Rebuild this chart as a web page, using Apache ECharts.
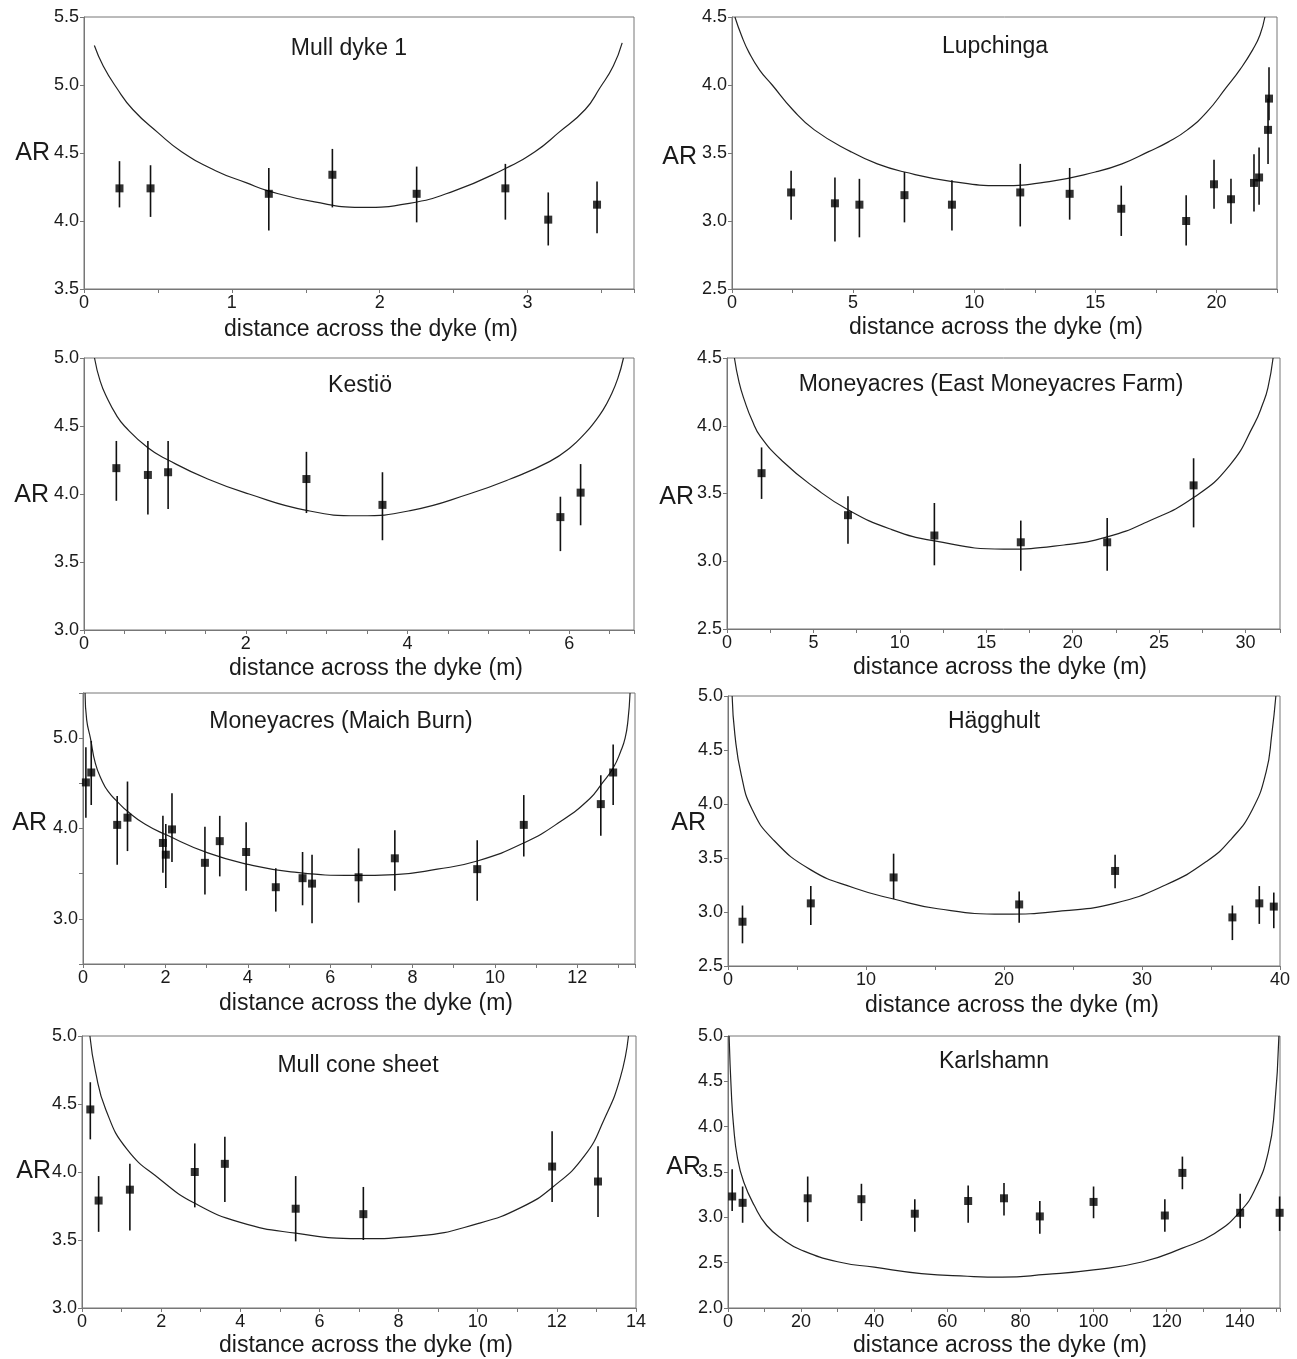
<!DOCTYPE html>
<html>
<head>
<meta charset="utf-8">
<script src="https://cdn.jsdelivr.net/npm/echarts@6/dist/echarts.min.js"></script>
<style>
html,body{margin:0;padding:0;background:#fff;}
#chart{width:1297px;height:1359px;}
</style>
</head>
<body>
<div id="chart"></div>
<script>
// ---------- DATA ----------
const titles = ["Mull dyke 1", "Lupchinga", "Kestiö", "Moneyacres (East Moneyacres Farm)",
                "Moneyacres (Maich Burn)", "Hägghult", "Mull cone sheet", "Karlshamn"];
const xAxisName = "distance across the dyke (m)";
const yAxisName = "AR";

// Panel 1: Mull dyke 1
const p1X  = [0.24, 0.45, 1.25, 1.68, 2.25, 2.85, 3.14, 3.47];
const p1AR = [4.24, 4.24, 4.20, 4.34, 4.20, 4.24, 4.01, 4.12];
const p1Lo = [4.10, 4.03, 3.93, 4.10, 3.99, 4.01, 3.82, 3.91];
const p1Hi = [4.44, 4.41, 4.39, 4.53, 4.40, 4.42, 4.21, 4.29];
const p1CurveX = [0.07, 0.13, 0.22, 0.33, 0.50, 0.66, 0.89, 1.10, 1.25, 1.56, 1.87, 2.20, 2.50, 2.82, 3.05, 3.21, 3.39, 3.49, 3.58, 3.64];
const p1CurveY = [5.29, 5.14, 4.98, 4.82, 4.65, 4.51, 4.37, 4.28, 4.22, 4.14, 4.10, 4.13, 4.22, 4.37, 4.51, 4.65, 4.82, 4.98, 5.14, 5.31];
const p1XTicks = [0, 1, 2, 3];
const p1YTicks = [3.5, 4.0, 4.5, 5.0, 5.5];

// Panel 2: Lupchinga
const p2X  = [2.44, 4.25, 5.26, 7.12, 9.08, 11.9, 13.94, 16.07, 18.75, 19.9, 20.6, 21.55, 21.76, 22.13, 22.17];
const p2AR = [3.21, 3.13, 3.12, 3.19, 3.12, 3.21, 3.20, 3.09, 3.00, 3.27, 3.16, 3.28, 3.32, 3.67, 3.90];
const p2Lo = [3.01, 2.85, 2.88, 2.99, 2.93, 2.96, 3.01, 2.89, 2.82, 3.09, 2.98, 3.07, 3.12, 3.42, 3.74];
const p2Hi = [3.37, 3.32, 3.31, 3.36, 3.30, 3.42, 3.39, 3.26, 3.19, 3.45, 3.31, 3.49, 3.54, 3.90, 4.13];
const p2CurveX = [0.12, 0.40, 0.70, 1.14, 1.66, 2.50, 3.40, 4.90, 6.00, 7.12, 9.10, 11.1, 13.1, 15.0, 16.1, 17.2, 18.0, 18.8, 19.6, 20.4, 21.0, 21.5, 21.8, 22.0];
const p2CurveY = [4.50, 4.36, 4.24, 4.11, 4.00, 3.82, 3.67, 3.51, 3.42, 3.36, 3.29, 3.26, 3.29, 3.36, 3.42, 3.51, 3.58, 3.67, 3.80, 3.98, 4.12, 4.26, 4.37, 4.50];
const p2XTicks = [0, 5, 10, 15, 20];
const p2YTicks = [2.5, 3.0, 3.5, 4.0, 4.5];

// Panel 3: Kestiö
const p3X  = [0.40, 0.79, 1.04, 2.75, 3.69, 5.89, 6.14];
const p3AR = [4.19, 4.14, 4.16, 4.11, 3.92, 3.83, 4.01];
const p3Lo = [3.95, 3.85, 3.89, 3.86, 3.66, 3.58, 3.77];
const p3Hi = [4.39, 4.39, 4.39, 4.31, 4.16, 3.98, 4.22];
const p3CurveX = [0.13, 0.20, 0.29, 0.40, 0.50, 0.79, 1.04, 1.53, 2.04, 2.75, 3.40, 4.05, 4.76, 5.27, 5.76, 6.01, 6.20, 6.30, 6.42, 6.51, 6.60, 6.67];
const p3CurveY = [5.00, 4.83, 4.70, 4.58, 4.50, 4.34, 4.25, 4.11, 4.00, 3.88, 3.84, 3.88, 4.00, 4.11, 4.24, 4.34, 4.45, 4.52, 4.62, 4.72, 4.85, 5.00];
const p3XTicks = [0, 2, 4, 6];
const p3YTicks = [3.0, 3.5, 4.0, 4.5, 5.0];

// Panel 4: Moneyacres (East Moneyacres Farm)
const p4X  = [2, 7, 12, 17, 22, 27];
const p4AR = [3.65, 3.34, 3.19, 3.14, 3.14, 3.56];
const p4Lo = [3.46, 3.13, 2.97, 2.93, 2.93, 3.25];
const p4Hi = [3.84, 3.48, 3.43, 3.30, 3.32, 3.76];
const p4CurveX = [0.43, 0.70, 1.03, 1.45, 1.94, 3.2, 5.1, 7.0, 9.4, 12.0, 16.0, 19.5, 22.0, 24.3, 27.0, 29.1, 30.5, 31.0, 31.3, 31.6];
const p4CurveY = [4.50, 4.32, 4.18, 4.04, 3.92, 3.74, 3.54, 3.38, 3.24, 3.15, 3.09, 3.12, 3.18, 3.29, 3.47, 3.71, 4.01, 4.16, 4.28, 4.50];
const p4XTicks = [0, 5, 10, 15, 20, 25, 30];
const p4YTicks = [2.5, 3.0, 3.5, 4.0, 4.5];

// Panel 5: Moneyacres (Maich Burn)
const p5X  = [0.07, 0.20, 0.83, 1.08, 1.94, 2.01, 2.16, 2.96, 3.32, 3.96, 4.68, 5.33, 5.56, 6.69, 7.57, 9.57, 10.70, 12.57, 12.87];
const p5AR = [4.51, 4.62, 4.04, 4.12, 3.84, 3.71, 3.99, 3.62, 3.86, 3.74, 3.35, 3.45, 3.39, 3.46, 3.67, 3.55, 4.04, 4.27, 4.62];
const p5Lo = [4.12, 4.26, 3.60, 3.75, 3.51, 3.34, 3.63, 3.27, 3.47, 3.31, 3.08, 3.15, 2.95, 3.18, 3.31, 3.20, 3.69, 3.92, 4.26];
const p5Hi = [4.90, 4.97, 4.36, 4.52, 4.14, 4.05, 4.39, 4.02, 4.14, 4.07, 3.56, 3.74, 3.71, 3.78, 3.98, 3.87, 4.37, 4.59, 4.93];
const p5CurveX = [0.05, 0.09, 0.18, 0.30, 0.45, 0.61, 0.85, 1.08, 1.50, 2.02, 3.03, 4.04, 5.05, 6.60, 7.57, 8.60, 9.57, 10.70, 11.60, 12.30, 12.60, 12.87, 13.05, 13.16, 13.23, 13.28];
const p5CurveY = [5.50, 5.20, 5.00, 4.72, 4.54, 4.41, 4.29, 4.19, 4.05, 3.93, 3.73, 3.60, 3.52, 3.48, 3.49, 3.55, 3.64, 3.84, 4.08, 4.33, 4.50, 4.67, 4.85, 5.00, 5.20, 5.50];
const p5XTicks = [0, 2, 4, 6, 8, 10, 12];
const p5YTicks = [3.0, 4.0, 5.0];

// Panel 6: Hägghult
const p6X  = [1.05, 6.0, 12.0, 21.1, 28.05, 36.55, 38.5, 39.55];
const p6AR = [2.91, 3.08, 3.32, 3.07, 3.38, 2.95, 3.08, 3.05];
const p6Lo = [2.71, 2.88, 3.12, 2.90, 3.22, 2.74, 2.89, 2.85];
const p6Hi = [3.06, 3.24, 3.54, 3.19, 3.53, 3.06, 3.24, 3.18];
const p6CurveX = [0.3, 0.5, 0.96, 1.71, 3.2, 6.0, 9.2, 12.0, 15.2, 20.0, 24.2, 28.0, 31.7, 34.7, 36.5, 38.0, 39.0, 39.4, 39.7];
const p6CurveY = [5.00, 4.64, 4.27, 3.96, 3.68, 3.39, 3.22, 3.12, 3.03, 2.98, 3.01, 3.08, 3.25, 3.47, 3.68, 3.95, 4.30, 4.64, 5.00];
const p6XTicks = [0, 10, 20, 30, 40];
const p6YTicks = [2.5, 3.0, 3.5, 4.0, 4.5, 5.0];

// Panel 7: Mull cone sheet
const p7X  = [0.21, 0.42, 1.21, 2.85, 3.61, 5.40, 7.11, 11.88, 13.04];
const p7AR = [4.46, 3.79, 3.87, 4.00, 4.06, 3.73, 3.69, 4.04, 3.93];
const p7Lo = [4.24, 3.56, 3.57, 3.74, 3.78, 3.49, 3.50, 3.78, 3.67];
const p7Hi = [4.66, 3.97, 4.06, 4.21, 4.26, 3.97, 3.89, 4.30, 4.19];
const p7CurveX = [0.20, 0.34, 0.60, 1.13, 2.00, 2.85, 4.00, 5.40, 7.00, 8.50, 10.0, 11.1, 11.9, 12.7, 13.2, 13.6, 13.81];
const p7CurveY = [5.00, 4.74, 4.46, 4.17, 3.94, 3.77, 3.63, 3.55, 3.51, 3.53, 3.62, 3.74, 3.89, 4.12, 4.39, 4.69, 5.00];
const p7XTicks = [0, 2, 4, 6, 8, 10, 12, 14];
const p7YTicks = [3.0, 3.5, 4.0, 4.5, 5.0];

// Panel 8: Karlshamn
const p8X  = [1.14, 4.0, 21.8, 36.5, 51.1, 65.7, 75.5, 85.3, 100, 119.5, 124.3, 140.1, 150.9];
const p8AR = [3.23, 3.16, 3.21, 3.20, 3.04, 3.18, 3.21, 3.01, 3.17, 3.02, 3.49, 3.05, 3.05];
const p8Lo = [3.07, 2.94, 2.95, 2.96, 2.84, 2.94, 3.02, 2.82, 2.99, 2.84, 3.31, 2.88, 2.85];
const p8Hi = [3.53, 3.34, 3.45, 3.37, 3.20, 3.35, 3.38, 3.18, 3.34, 3.20, 3.67, 3.26, 3.23];
const p8CurveX = [0.3, 0.9, 1.5, 2.6, 4.3, 7.2, 10.6, 15.2, 20, 30, 40, 52.9, 65.5, 75, 87, 100, 113.5, 124.3, 133, 140, 144.3, 147.8, 149.5, 150.7];
const p8CurveY = [5.00, 4.39, 4.02, 3.65, 3.39, 3.13, 2.91, 2.75, 2.64, 2.51, 2.45, 2.38, 2.35, 2.34, 2.37, 2.42, 2.51, 2.66, 2.82, 3.06, 3.32, 3.72, 4.20, 5.00];
const p8XTicks = [0, 20, 40, 60, 80, 100, 120, 140];
const p8YTicks = [2.0, 2.5, 3.0, 3.5, 4.0, 4.5, 5.0];

// axis extents
const xMaxes = [3.72, 22.5, 6.8, 32, 13.4, 40, 14, 151];
const yMins  = [3.5, 2.5, 3.0, 2.5, 2.5, 2.5, 3.0, 2.0];
const yMaxes = [5.5, 4.5, 5.0, 4.5, 5.5, 5.0, 5.0, 5.0];
const xTickSteps = [0.5, 2.5, 0.5, 2.5, 1, 5, 1, 10];

// ---------- LAYOUT ----------
const layout = [
  {left: 84,  top: 17,   width: 550, height: 272, tx: 349, ty: 49,   lx: 371,  ly: 330,  ax: 50,  ay: 153},
  {left: 732, top: 17,   width: 545, height: 272, tx: 995, ty: 47,   lx: 996,  ly: 328,  ax: 697, ay: 157},
  {left: 84,  top: 358,  width: 550, height: 272, tx: 360, ty: 386,  lx: 376,  ly: 669,  ax: 49,  ay: 495},
  {left: 727, top: 358,  width: 553, height: 271, tx: 991, ty: 385,  lx: 1000, ly: 668,  ax: 694, ay: 497},
  {left: 83,  top: 693,  width: 552, height: 271, tx: 341, ty: 722,  lx: 366,  ly: 1004, ax: 47,  ay: 823},
  {left: 728, top: 696,  width: 552, height: 270, tx: 994, ty: 722,  lx: 1012, ly: 1006, ax: 706, ay: 823},
  {left: 82,  top: 1036, width: 554, height: 272, tx: 358, ty: 1066, lx: 366,  ly: 1346, ax: 51,  ay: 1171},
  {left: 728, top: 1036, width: 552, height: 272, tx: 994, ty: 1062, lx: 1000, ly: 1346, ax: 701, ay: 1167}
];

const panels = [
  [p1X, p1AR, p1Lo, p1Hi, p1CurveX, p1CurveY, p1XTicks, p1YTicks],
  [p2X, p2AR, p2Lo, p2Hi, p2CurveX, p2CurveY, p2XTicks, p2YTicks],
  [p3X, p3AR, p3Lo, p3Hi, p3CurveX, p3CurveY, p3XTicks, p3YTicks],
  [p4X, p4AR, p4Lo, p4Hi, p4CurveX, p4CurveY, p4XTicks, p4YTicks],
  [p5X, p5AR, p5Lo, p5Hi, p5CurveX, p5CurveY, p5XTicks, p5YTicks],
  [p6X, p6AR, p6Lo, p6Hi, p6CurveX, p6CurveY, p6XTicks, p6YTicks],
  [p7X, p7AR, p7Lo, p7Hi, p7CurveX, p7CurveY, p7XTicks, p7YTicks],
  [p8X, p8AR, p8Lo, p8Hi, p8CurveX, p8CurveY, p8XTicks, p8YTicks]
];

const FONT = '"Liberation Sans", Arial, Helvetica, sans-serif';
const AXIS_COLOR = '#777';
const TEXT_COLOR = '#1a1a1a';

function inList(list, v) {
  for (let k = 0; k < list.length; k++) if (Math.abs(list[k] - v) < 1e-6) return true;
  return false;
}

const grids = [], xAxes = [], yAxes = [], series = [], graphics = [];

panels.forEach(function (p, i) {
  const [xs, ys, lo, hi, cx, cy, xTicks, yTicks] = p;
  const L = layout[i];
  grids.push({left: L.left, top: L.top, width: L.width, height: L.height,
              show: true, borderColor: AXIS_COLOR, borderWidth: 1, backgroundColor: 'transparent'});
  xAxes.push({
    gridIndex: i, type: 'value', min: 0, max: xMaxes[i], interval: xTickSteps[i],
    axisLine: {show: true, onZero: false, lineStyle: {color: AXIS_COLOR, width: 1}},
    axisTick: {show: true, length: 4, lineStyle: {color: AXIS_COLOR}},
    splitLine: {show: false},
    axisLabel: {fontFamily: FONT, fontSize: 18, color: TEXT_COLOR, margin: 5,
      formatter: function (v) { return inList(xTicks, v) ? String(v) : ''; }}
  });
  yAxes.push({
    gridIndex: i, type: 'value', min: yMins[i], max: yMaxes[i], interval: 0.5,
    axisLine: {show: true, onZero: false, lineStyle: {color: AXIS_COLOR, width: 1}},
    axisTick: {show: true, length: 4, lineStyle: {color: AXIS_COLOR}},
    splitLine: {show: false},
    axisLabel: {fontFamily: FONT, fontSize: 18, color: TEXT_COLOR, margin: 5,
      formatter: function (v) { return inList(yTicks, v) ? v.toFixed(1) : ''; }}
  });
  // theoretical curve
  series.push({
    type: 'line', xAxisIndex: i, yAxisIndex: i,
    data: cx.map(function (x, k) { return [x, cy[k]]; }),
    smooth: 0.5, showSymbol: false, symbol: 'none',
    lineStyle: {color: '#222', width: 1.2}, clip: true, z: 2, silent: true
  });
  // error bars
  series.push({
    type: 'custom', xAxisIndex: i, yAxisIndex: i,
    data: xs.map(function (x, k) { return [x, lo[k], hi[k]]; }),
    encode: {x: 0, y: [1, 2]},
    renderItem: function (params, api) {
      const a = api.coord([api.value(0), api.value(1)]);
      const b = api.coord([api.value(0), api.value(2)]);
      return {type: 'line', shape: {x1: a[0], y1: a[1], x2: b[0], y2: b[1]},
              style: {stroke: '#111', lineWidth: 1.6}};
    },
    z: 3, silent: true
  });
  // data points
  series.push({
    type: 'scatter', xAxisIndex: i, yAxisIndex: i,
    data: xs.map(function (x, k) { return [x, ys[k]]; }),
    symbol: 'rect', symbolSize: 8, itemStyle: {color: '#000'}, z: 4, silent: true
  });
  // texts
  graphics.push({type: 'text', x: L.tx, y: L.ty,
    style: {text: titles[i], font: '23px ' + FONT, fill: TEXT_COLOR, align: 'center', verticalAlign: 'middle'}});
  graphics.push({type: 'text', x: L.lx, y: L.ly,
    style: {text: xAxisName, font: '23px ' + FONT, fill: TEXT_COLOR, align: 'center', verticalAlign: 'middle'}});
  graphics.push({type: 'text', x: L.ax, y: L.ay,
    style: {text: yAxisName, font: '25px ' + FONT, fill: TEXT_COLOR, align: 'right', verticalAlign: 'middle'}});
});

const chart = echarts.init(document.getElementById('chart'), null, {renderer: 'canvas'});
chart.setOption({
  backgroundColor: '#fff',
  animation: false,
  grid: grids, xAxis: xAxes, yAxis: yAxes, series: series,
  graphic: graphics
});
</script>
</body>
</html>
